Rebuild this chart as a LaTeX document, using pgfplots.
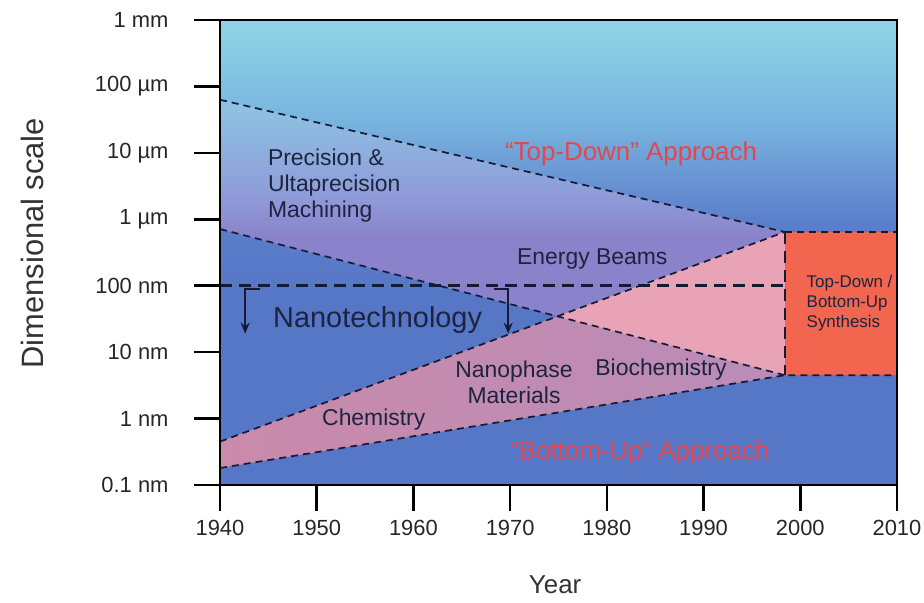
\documentclass[border=0pt]{standalone}
\usepackage{fontspec}
\setmainfont{Liberation Sans}
\usepackage{pgfplots}
\pgfplotsset{compat=1.18}
\usetikzlibrary{arrows.meta}

\definecolor{bgtop}{HTML}{8ED6E6}
\definecolor{bgb}{HTML}{78B4DE}
\definecolor{bgc}{HTML}{6690D2}
\definecolor{bgd}{HTML}{5A7ECA}
\definecolor{bgblue}{HTML}{5676C6}
\definecolor{tdtop}{HTML}{8EC0E2}
\definecolor{tdmid}{HTML}{8E9AD8}
\definecolor{tdpurple}{HTML}{8A82CA}
\definecolor{buleft}{HTML}{CA8AAA}
\definecolor{buright}{HTML}{B98CB8}
\definecolor{overlap}{HTML}{E9A3B7}
\definecolor{synth}{HTML}{F2654F}
\definecolor{lineclr}{HTML}{151A36}
\definecolor{redtxt}{HTML}{E5464C}
\definecolor{txt}{HTML}{1E2340}

% shadings are laid out on a 100bp square, the path box is the middle 25..75bp
\pgfdeclareverticalshading{bgshade}{100bp}{color(0bp)=(bgblue); color(45bp)=(bgblue);
  color(53bp)=(bgd); color(57bp)=(bgc); color(64bp)=(bgb); color(75bp)=(bgtop); color(100bp)=(bgtop)}
\pgfdeclareverticalshading{tdshade}{100bp}{color(0bp)=(tdpurple); color(50bp)=(tdpurple);
  color(57bp)=(tdmid); color(73bp)=(tdtop); color(100bp)=(tdtop)}

\tikzset{
  dashline/.style={lineclr, line width=1.7bp, dash pattern=on 7bp off 5bp},
  nanoline/.style={lineclr, line width=2.6bp, dash pattern=on 12bp off 7bp},
  lbl/.style={txt, font=\fontsize{23}{26}\selectfont, align=center},
}

\begin{document}
\begin{tikzpicture}
\useasboundingbox (-220bp,-118bp) rectangle (704bp,485bp);
\begin{axis}[
  at={(0,0)}, anchor=south west,
  width=677bp, height=465bp, scale only axis,
  xmin=1940, xmax=2010,
  ymode=log, ymin=0.1, ymax=1e6,
  xtick={1940,1950,1960,1970,1980,1990,2000,2010},
  xticklabels={1940,1950,1960,1970,1980,1990,2000,2010},
  ytick={0.1,1,10,100,1000,10000,100000,1000000},
  yticklabels={0.1 nm,1 nm,10 nm,100 nm,1 µm,10 µm,100 µm,1 mm},
  yminorticks=false,
  tick pos=left,
  tick align=outside, major tick length=26bp,
  every tick/.style={black, line width=2.5bp},
  axis line style={line width=2.5bp},
  xticklabel style={font=\fontsize{22}{24}\selectfont, color=black!85, yshift=-6bp},
  yticklabel style={font=\fontsize{22}{24}\selectfont, color=black!85, xshift=-22bp},
  xlabel={Year}, ylabel={Dimensional scale},
  every axis x label/.style={at={(axis description cs:0.495,-0.215)}, anchor=center,
    font=\fontsize{26}{30}\selectfont, color=black!80},
  every axis y label/.style={at={(axis description cs:-0.2777,0.52)}, anchor=center, rotate=90,
    font=\fontsize{31}{34}\selectfont, color=black!80},
  axis on top,
]
% background
\addplot[draw=none, shading=bgshade]
  coordinates {(1940,1e6) (2010,1e6) (2010,0.1) (1940,0.1)} -- cycle;
% top-down wedge
\addplot[draw=none, shading=tdshade]
  coordinates {(1940,63000) (1998.4,645) (1998.4,4.5) (1940,713)} -- cycle;
% bottom-up wedge
\addplot[draw=none, left color=buleft, right color=buright]
  coordinates {(1940,0.45) (1998.4,645) (1998.4,4.5) (1940,0.18)} -- cycle;
% overlap
\addplot[draw=none, fill=overlap]
  coordinates {(1974.9,34.5) (1998.4,645) (1998.4,4.5)} -- cycle;
% synthesis box
\addplot[draw=none, fill=synth]
  coordinates {(1998.4,4.5) (2010,4.5) (2010,645) (1998.4,645)} -- cycle;

% boundary lines
\addplot[dashline] coordinates {(1940,63000) (1998.4,645)};
\addplot[dashline] coordinates {(1940,713) (1998.4,4.5)};
\addplot[dashline] coordinates {(1940,0.45) (1998.4,645)};
\addplot[dashline] coordinates {(1940,0.18) (1998.4,4.5) (2010,4.5)};
\addplot[dashline] coordinates {(1998.4,645) (2010,645)};
\addplot[nanoline] coordinates {(1998.4,645) (1998.4,4.5)};
\addplot[nanoline] coordinates {(1940,100) (1998.4,100)};

% nanotechnology brackets
\addplot[lineclr, line width=2.4bp, -{Stealth[length=11bp,width=9bp]}]
  coordinates {(1944.1,90) (1942.6,90) (1942.6,19)};
\addplot[lineclr, line width=2.4bp, -{Stealth[length=11bp,width=9bp]}]
  coordinates {(1968.3,90) (1969.8,90) (1969.8,19)};

% labels
\node[lbl, align=left, anchor=west] at (1944.6,3260) {Precision \&\\Ultaprecision\\Machining};
\node[lbl, redtxt, font=\fontsize{26}{28}\selectfont] at (1982.5,9700) {“Top-Down” Approach};
\node[lbl] at (1978.5,250) {Energy Beams};
\node[lbl, font=\fontsize{29}{32}\selectfont] at (1956.3,30) {Nanotechnology};
\node[lbl] at (1970.4,3.5) {Nanophase\\Materials};
\node[lbl] at (1985.6,5.5) {Biochemistry};
\node[lbl] at (1955.9,0.95) {Chemistry};
\node[lbl, redtxt, font=\fontsize{26}{28}\selectfont] at (1983.4,0.305) {“Bottom-Up” Approach};
\node[lbl, align=left, anchor=west, font=\fontsize{17}{20}\selectfont] at (2000.3,54)
  {Top-Down /\\Bottom-Up\\Synthesis};
\end{axis}
\end{tikzpicture}
\end{document}
